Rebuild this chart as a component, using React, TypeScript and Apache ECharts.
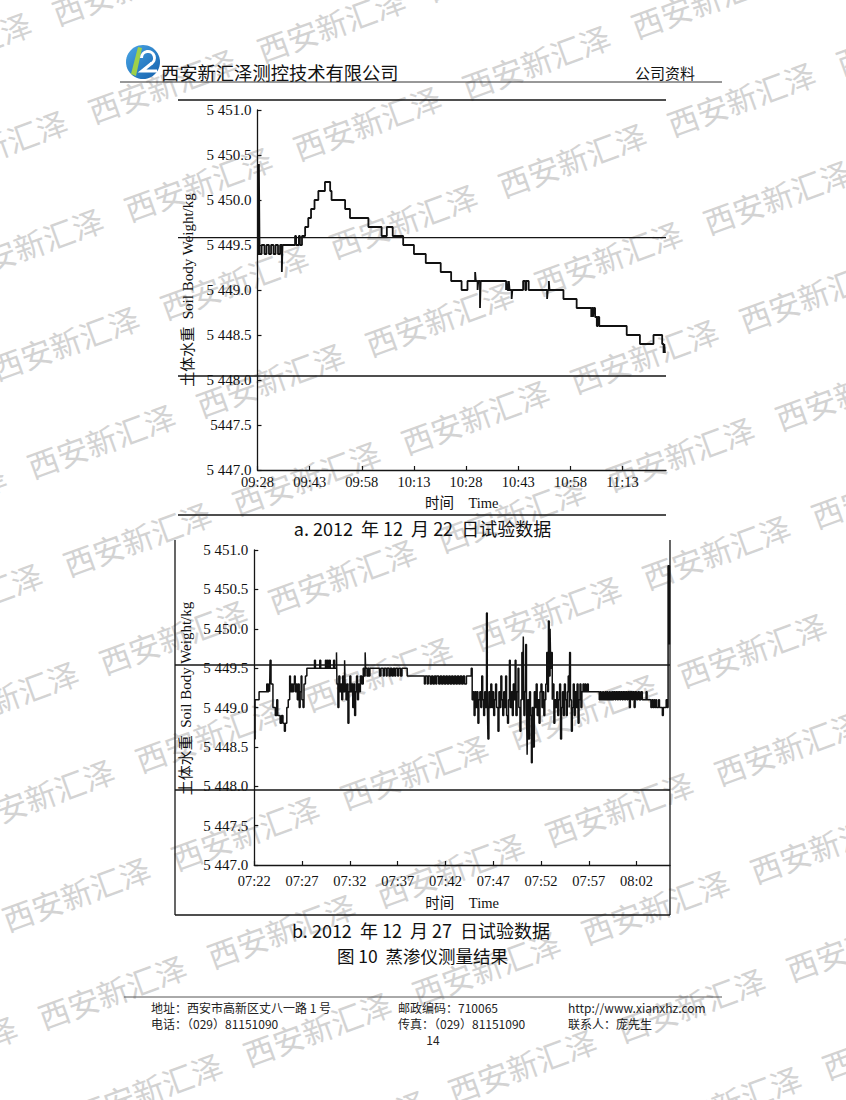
import React, { useEffect, useRef } from 'react';
import * as echarts from 'echarts';

const SERIF = '"Liberation Serif", "Times New Roman", "Noto Sans CJK SC", serif';
const SANS = '"Noto Sans CJK SC", "Noto Sans", sans-serif';

// ---------- axis ticks / labels ----------
const yTicks = [5447, 5447.5, 5448, 5448.5, 5449, 5449.5, 5450, 5450.5, 5451];
const yLabelsA = ['5 447.0', '5447.5', '5 448.0', '5 448.5', '5 449.0', '5 449.5', '5 450.0', '5 450.5', '5 451.0'];
const yLabelsB = ['5 447.0', '5 447.5', '5 448.0', '5 448.5', '5 449.0', '5 449.5', '5 450.0', '5 450.5', '5 451.0'];
const xTicksA = [0, 15, 30, 45, 60, 75, 90, 105];
const xLabelsA = ['09:28', '09:43', '09:58', '10:13', '10:28', '10:43', '10:58', '11:13'];
const xTicksB = [0, 5, 10, 15, 20, 25, 30, 35, 40];
const xLabelsB = ['07:22', '07:27', '07:32', '07:37', '07:42', '07:47', '07:52', '07:57', '08:02'];

// ---------- chart a: 2012-12-22 (minutes after 09:28, kg) ----------
const timeA = [0, 0.4, 0.6, 1.2, 2.0, 2.6, 3.3, 3.9, 4.6, 5.2, 5.9, 6.5, 7.0, 7.2,
  10.8, 11.1, 11.9, 12.2, 12.8, 13.7, 14.6, 15.4, 16.4, 17.5, 19.4, 20.9, 21.3, 25.2, 26.6, 31.9, 35.7, 37.2, 38.9,
  41.9, 45.0, 48.4, 52.7, 55.7, 58.7, 60.4, 62.6, 62.8, 63.3, 63.5, 64.0, 64.2,
  71.5, 71.7, 71.9, 72.3, 72.5, 73.1, 73.3, 76.4, 77.0, 77.3, 78.0, 83.3, 83.5, 83.8, 84.0,
  88.0, 91.8, 96.0, 96.2, 96.5, 96.7, 97.1, 97.6, 97.9, 98.3, 106.2, 110.0, 113.9, 116.4, 116.8, 117.0, 117.2, 117.4];
const weightA = [5449.4, 5450.4, 5449.4, 5449.5, 5449.4, 5449.5, 5449.4, 5449.5, 5449.4, 5449.5, 5449.4, 5449.5, 5449.2, 5449.5,
  5449.6, 5449.5, 5449.6, 5449.5, 5449.6, 5449.7, 5449.8, 5449.9, 5450.0, 5450.1, 5450.2, 5450.1, 5450.0, 5449.9, 5449.8, 5449.7, 5449.6, 5449.7, 5449.6,
  5449.5, 5449.4, 5449.3, 5449.2, 5449.1, 5449.0, 5449.1, 5449.2, 5449.1, 5449.0, 5449.1, 5448.8, 5449.1,
  5449.0, 5449.1, 5449.0, 5449.1, 5449.0, 5448.9, 5449.0, 5449.1, 5449.0, 5449.1, 5449.0, 5448.9, 5449.0, 5449.1, 5449.0,
  5448.9, 5448.8, 5448.7, 5448.8, 5448.7, 5448.8, 5448.7, 5448.6, 5448.7, 5448.6, 5448.5, 5448.4, 5448.5, 5448.4, 5448.3, 5448.4, 5448.3, 5448.3];

// ---------- chart b: 2012-12-27 ([minutes after 07:22, kg]) ----------
const b1: number[][] = [[0, 5448.6], [0.08, 5449.1], [0.5, 5449.2], [1.3, 5449.3], [1.4, 5449.2], [1.5, 5449.3], [1.6, 5449.2], [1.65, 5449.6], [1.75, 5449.3],
  [1.95, 5449.0], [2.2, 5448.9], [2.35, 5449.1], [2.45, 5448.9], [2.7, 5448.8], [2.85, 5448.9], [3.0, 5448.8], [3.15, 5448.7], [3.25, 5448.8],
  [3.4, 5449.0], [3.55, 5449.1], [3.7, 5449.4], [3.78, 5449.2], [3.9, 5449.3], [4.0, 5449.2], [4.1, 5449.3], [4.2, 5449.4], [4.28, 5449.2],
  [4.4, 5449.3], [4.5, 5449.1], [4.6, 5449.3], [4.7, 5449.0], [4.8, 5449.2], [4.9, 5449.4], [4.98, 5449.1], [5.1, 5449.0], [5.2, 5449.3], [5.35, 5449.4]];
const b2: number[][] = [[5.5, 5449.5], [6.3, 5449.6], [6.4, 5449.5], [6.85, 5449.6], [6.95, 5449.5], [7.45, 5449.6], [7.55, 5449.5], [7.65, 5449.6],
  [7.75, 5449.5], [7.85, 5449.6], [7.95, 5449.5], [8.3, 5449.6], [8.4, 5449.5]];
const b3: number[][] = [[8.6, 5449.7], [8.65, 5449.3], [8.75, 5449.0], [8.85, 5449.4], [8.95, 5449.2], [9.05, 5449.3], [9.15, 5449.1], [9.25, 5449.4],
  [9.35, 5449.2], [9.45, 5449.6], [9.5, 5449.3], [9.6, 5449.1], [9.7, 5449.3], [9.8, 5448.8], [9.9, 5449.2], [10.0, 5449.4], [10.1, 5449.2],
  [10.2, 5449.3], [10.3, 5449.0], [10.4, 5449.3], [10.5, 5448.9], [10.6, 5449.2], [10.7, 5449.4], [10.8, 5449.1], [10.9, 5449.3], [11.0, 5449.2],
  [11.1, 5449.4], [11.25, 5449.3], [11.4, 5449.5], [11.5, 5449.4], [11.6, 5449.7], [11.65, 5449.5], [11.8, 5449.4], [11.9, 5449.5], [12.0, 5449.4], [12.1, 5449.5]];
const b4: number[][] = [[13.1, 5449.4], [13.25, 5449.5], [13.5, 5449.4], [13.6, 5449.5], [13.8, 5449.4], [13.9, 5449.5], [14.1, 5449.4], [14.25, 5449.5],
  [14.4, 5449.4], [14.55, 5449.5], [14.7, 5449.4], [14.8, 5449.5], [15.0, 5449.4], [15.1, 5449.5], [15.3, 5449.4], [15.45, 5449.5], [16.0, 5449.4]];
const b5: number[][] = [[17.8, 5449.3], [17.9, 5449.4], [18.1, 5449.3], [18.2, 5449.4], [18.4, 5449.3], [18.55, 5449.4], [18.7, 5449.3], [18.85, 5449.4],
  [19.0, 5449.3], [19.1, 5449.4], [19.3, 5449.3], [19.45, 5449.4], [19.6, 5449.3], [19.75, 5449.4], [19.9, 5449.3], [20.05, 5449.4], [20.2, 5449.3],
  [20.35, 5449.4], [20.5, 5449.3], [20.65, 5449.4], [20.8, 5449.3], [20.95, 5449.4], [21.1, 5449.3], [21.25, 5449.4], [21.4, 5449.3], [21.55, 5449.4],
  [21.7, 5449.3], [21.85, 5449.4], [22.0, 5449.3], [22.2, 5449.4]];
const b6: number[][] = [[22.7, 5449.5], [22.8, 5449.1], [22.9, 5449.2], [23.0, 5448.9], [23.1, 5449.2], [23.2, 5449.0], [23.3, 5449.2], [23.4, 5448.8],
  [23.5, 5449.1], [23.6, 5449.2], [23.7, 5449.0], [23.8, 5449.4], [23.9, 5449.1], [24.0, 5448.9], [24.1, 5449.2], [24.2, 5449.0], [24.3, 5450.2],
  [24.38, 5449.1], [24.45, 5448.6], [24.55, 5449.2], [24.65, 5449.0], [24.75, 5449.3], [24.85, 5449.0], [24.95, 5449.2], [25.05, 5448.9],
  [25.15, 5449.1], [25.25, 5449.3], [25.35, 5449.0], [25.5, 5448.7], [25.6, 5449.2], [25.7, 5449.0], [25.8, 5449.4], [25.9, 5449.1], [26.0, 5448.9],
  [26.1, 5449.2], [26.2, 5449.0], [26.3, 5449.4], [26.4, 5448.9], [26.5, 5448.8], [26.6, 5449.1], [26.7, 5449.6], [26.78, 5449.0], [26.9, 5449.2],
  [27.0, 5448.9], [27.1, 5449.3], [27.2, 5449.1], [27.3, 5449.6], [27.38, 5448.9], [27.5, 5449.2], [27.6, 5449.5], [27.68, 5449.0], [27.8, 5448.7],
  [27.9, 5449.1], [28.0, 5449.7], [28.08, 5449.1], [28.15, 5449.9], [28.22, 5448.9], [28.3, 5449.2], [28.4, 5449.8], [28.48, 5449.0], [28.55, 5448.4],
  [28.62, 5449.1], [28.7, 5448.6], [28.8, 5449.2], [28.9, 5448.9], [29.0, 5448.3], [29.08, 5449.0], [29.2, 5448.5], [29.3, 5449.2], [29.4, 5449.0],
  [29.5, 5449.3], [29.6, 5448.9], [29.7, 5449.1], [29.8, 5448.8], [29.9, 5449.2], [30.0, 5449.3], [30.1, 5449.0], [30.2, 5449.2], [30.3, 5448.9],
  [30.4, 5449.1], [30.5, 5449.3], [30.6, 5449.7], [30.7, 5449.2], [30.78, 5450.1], [30.86, 5449.4], [30.95, 5450.0], [31.02, 5449.5], [31.1, 5449.7],
  [31.18, 5449.1], [31.25, 5449.3], [31.35, 5448.8], [31.45, 5449.1], [31.55, 5449.0], [31.65, 5449.2], [31.75, 5448.9], [31.85, 5449.1],
  [31.95, 5449.3], [32.05, 5448.6], [32.15, 5449.0], [32.25, 5449.2], [32.35, 5448.9], [32.45, 5449.3], [32.55, 5449.1], [32.65, 5448.9],
  [32.75, 5449.2], [32.85, 5449.4], [32.95, 5449.0], [33.0, 5449.7], [33.08, 5449.1], [33.18, 5448.7], [33.28, 5449.0], [33.38, 5449.3],
  [33.48, 5448.9], [33.58, 5449.2], [33.68, 5449.0], [33.78, 5449.3], [33.88, 5448.8], [33.98, 5449.1], [34.08, 5449.3], [34.18, 5449.0],
  [34.28, 5449.2], [34.4, 5449.3], [34.5, 5449.2]];
const b7: number[][] = [[34.6, 5449.3], [34.7, 5449.2], [34.85, 5449.3], [34.95, 5449.2],
  [36.1, 5449.1], [36.2, 5449.2], [36.3, 5449.1], [36.45, 5449.2], [36.55, 5449.1], [36.7, 5449.2], [36.8, 5449.1], [36.9, 5449.2], [37.0, 5449.1],
  [37.15, 5449.2], [37.25, 5449.1], [37.4, 5449.2], [37.5, 5449.1], [37.6, 5449.2], [37.75, 5449.1], [37.85, 5449.2], [38.0, 5449.1], [38.1, 5449.2],
  [38.25, 5449.1], [38.35, 5449.2], [38.5, 5449.1], [38.6, 5449.2], [38.75, 5449.1], [38.85, 5449.2], [39.0, 5449.1], [39.1, 5449.2], [39.25, 5449.0],
  [39.35, 5449.2], [39.5, 5449.1], [39.6, 5449.2], [39.75, 5449.0], [39.85, 5449.2], [40.0, 5449.1], [40.15, 5449.2], [40.3, 5449.1], [40.45, 5449.2],
  [40.6, 5449.1], [41.0, 5449.2], [41.1, 5449.1]];
const b8: number[][] = [[41.5, 5449.0], [41.6, 5449.1], [41.7, 5449.0], [41.8, 5449.1], [41.9, 5449.0], [42.0, 5449.1], [42.1, 5449.0], [42.3, 5449.1],
  [42.4, 5449.0], [42.7, 5448.9], [42.8, 5449.0], [43.1, 5449.1], [43.2, 5449.0], [43.3, 5450.8], [43.45, 5449.8]];

const dataA = timeA.map((t, i) => [t, weightA[i]]);
const dataB = [...b1, ...b2, ...b3, ...b4, ...b5, ...b6, ...b7, ...b8];

// ---------- page texts ----------
const companyName = '西安新汇泽测控技术有限公司';
const docType = '公司资料';
const captionA = 'a. 2012  年 12  月 22  日试验数据';
const captionB = 'b. 2012  年 12  月 27  日试验数据';
const figureTitle = '图 10  蒸渗仪测量结果';
const yName = '土体水重  Soil Body Weight/kg';
const xName = '时间    Time';
const footerRow1 = ['地址：西安市高新区丈八一路 1 号', '邮政编码：710065', 'http://www.xianxhz.com'];
const footerRow2 = ['电话：（029）81151090', '传真：（029）81151090', '联系人：庞先生'];
const pageNo = '14';
const watermark = '西安新汇泽';

const AX = '#151515';

function xAxisCfg(gridIndex: number, max: number, interval: number, ticks: number[], labels: string[], nameGap: number, margin: number) {
  return {
    type: 'value', gridIndex, min: 0, max, interval,
    axisLine: { show: true, onZero: false, lineStyle: { color: AX, width: 1.3 } },
    axisTick: { show: true, inside: true, length: 4, customValues: ticks, lineStyle: { color: AX, width: 1.2 } },
    axisLabel: {
      show: true, customValues: ticks, margin, color: '#111', fontFamily: SERIF, fontSize: 14.5,
      formatter: (v: number) => { const k = ticks.indexOf(v); return k >= 0 ? labels[k] : ''; },
    },
    splitLine: { show: false },
    name: xName, nameLocation: 'middle', nameGap,
    nameTextStyle: { fontFamily: SERIF, fontSize: 14.5, color: '#111' },
  };
}

function yAxisCfg(gridIndex: number, labels: string[], nameGap: number, shiftUp: number) {
  return {
    type: 'value', gridIndex, min: 5447, max: 5451, interval: 0.5,
    axisLine: { show: true, onZero: false, lineStyle: { color: AX, width: 1.3 } },
    axisTick: { show: true, inside: true, length: 4, lineStyle: { color: AX, width: 1.2 } },
    axisLabel: {
      show: true, margin: 6, color: '#111', fontFamily: SERIF, fontSize: 15,
      formatter: (v: number) => { const k = yTicks.findIndex((t) => Math.abs(t - v) < 1e-6); return k >= 0 ? labels[k] : ''; },
    },
    splitLine: { show: false },
    name: yName, nameLocation: 'middle', nameGap,
    nameTextStyle: { fontFamily: SERIF, fontSize: 15, color: '#111', padding: [0, 0, 0, shiftUp * 2] },
  };
}

function line(x1: number, y1: number, x2: number, y2: number, w = 1.3, color = AX) {
  return { type: 'line', silent: true, z: 5, shape: { x1, y1, x2, y2 }, style: { stroke: color, lineWidth: w } };
}

function txt(text: string, x: number, y: number, fontSize: number, align = 'left', family = SANS, color = '#111') {
  return {
    type: 'text', x, y, silent: true, z: 5,
    style: { text, fontSize, fontFamily: family, fill: color, textAlign: align, align, textVerticalAlign: 'middle', verticalAlign: 'middle' },
  };
}

function buildWatermarks() {
  const out: any[] = [];
  for (let i = -6; i <= 6; i++) {
    for (let j = -4; j <= 12; j++) {
      const cx = 403 + 205 * i + 36 * j;
      const cy = 220 + 37 * i + 98 * j;
      if (cx < -110 || cx > 960 || cy < -50 || cy > 1160) continue;
      out.push({
        type: 'text', x: cx, y: cy, rotation: (20 * Math.PI) / 180, silent: true, z: -10,
        style: { text: watermark, fontSize: 31, fontFamily: SANS, fill: '#d3d3d3', textAlign: 'center', align: 'center', textVerticalAlign: 'middle', verticalAlign: 'middle' },
      });
    }
  }
  return out;
}

function buildOption() {
  const graphics: any[] = [
    ...buildWatermarks(),
    // logo
    {
      type: 'circle', silent: true, z: 5, shape: { cx: 143, cy: 62, r: 17 },
      style: { fill: new echarts.graphic.LinearGradient(0, 0, 1, 1, [{ offset: 0, color: '#4aa6e6' }, { offset: 1, color: '#1360ac' }]) },
    },
    { type: 'polygon', silent: true, z: 6, shape: { points: [[131, 74], [136, 76], [142, 48], [138, 47]] }, style: { fill: '#9fd04a' } },
    { type: 'arc', silent: true, z: 6, shape: { cx: 148, cy: 58, r: 6.5, startAngle: -Math.PI, endAngle: Math.PI * 0.35, clockwise: true }, style: { stroke: '#ffffff', lineWidth: 3, fill: 'none' } },
    { type: 'polyline', silent: true, z: 6, shape: { points: [[152, 63], [142, 71], [157, 71]] }, style: { stroke: '#ffffff', lineWidth: 3, fill: 'none' } },
    // header
    txt(companyName, 161, 72, 18.3, 'left', SANS, '#111'),
    txt(docType, 635, 72, 15, 'left', SANS, '#111'),
    line(120, 82, 722, 82, 1, '#333'),
    // chart a frame lines
    line(178, 100, 666, 100),
    line(178, 237.7, 666, 237.7),
    line(178, 376, 666, 376),
    line(178, 515, 666, 515),
    txt(captionA, 422.5, 528, 18, 'center'),
    // chart b frame lines
    line(175, 540, 175, 915),
    line(670, 540, 670, 915),
    line(175, 915, 670, 915),
    line(175, 665, 670, 665),
    line(175, 790, 670, 790),
    txt(captionB, 421, 930, 18, 'center'),
    txt(figureTitle, 422.5, 955, 17.5, 'center'),
    // footer
    line(124, 997, 722, 997, 1, '#555'),
    txt(footerRow1[0], 151, 1007, 12, 'left', SANS, '#222'),
    txt(footerRow1[1], 398, 1007, 12, 'left', SANS, '#222'),
    txt(footerRow1[2], 568, 1007, 12, 'left', SANS, '#222'),
    txt(footerRow2[0], 151, 1023, 12, 'left', SANS, '#222'),
    txt(footerRow2[1], 398, 1023, 12, 'left', SANS, '#222'),
    txt(footerRow2[2], 568, 1023, 12, 'left', SANS, '#222'),
    txt(pageNo, 433, 1039, 12, 'center', SANS, '#222'),
  ];

  return {
    animation: false,
    backgroundColor: '#ffffff',
    grid: [
      { left: 257.5, top: 110, width: 408.5, height: 360, containLabel: false },
      { left: 254.3, top: 550, width: 415.7, height: 315, containLabel: false },
    ],
    xAxis: [
      xAxisCfg(0, 117.5, 15, xTicksA, xLabelsA, 26, 4.5),
      xAxisCfg(1, 43.5, 5, xTicksB, xLabelsB, 31, 9),
    ],
    yAxis: [yAxisCfg(0, yLabelsA, 62, 0), yAxisCfg(1, yLabelsB, 61, 9)],
    series: [
      {
        type: 'line', xAxisIndex: 0, yAxisIndex: 0, data: dataA, step: 'end', symbol: 'none', showSymbol: false, silent: true,
        lineStyle: { color: '#111', width: 1.8 }, z: 3,
      },
      {
        type: 'line', xAxisIndex: 1, yAxisIndex: 1, data: dataB, step: 'end', symbol: 'none', showSymbol: false, silent: true,
        lineStyle: { color: '#111', width: 1.5 }, z: 3,
      },
    ],
    graphic: graphics,
  };
}

export default function App() {
  const ref = useRef<HTMLDivElement>(null);
  useEffect(() => {
    if (!ref.current) return;
    const chart = echarts.init(ref.current, null, { renderer: 'svg' });
    chart.setOption(buildOption() as any);
    return () => chart.dispose();
  }, []);
  return (
    <div
      ref={ref}
      style={{ position: 'absolute', left: 0, top: 0, width: 846, height: 1100, background: '#ffffff' }}
    />
  );
}
